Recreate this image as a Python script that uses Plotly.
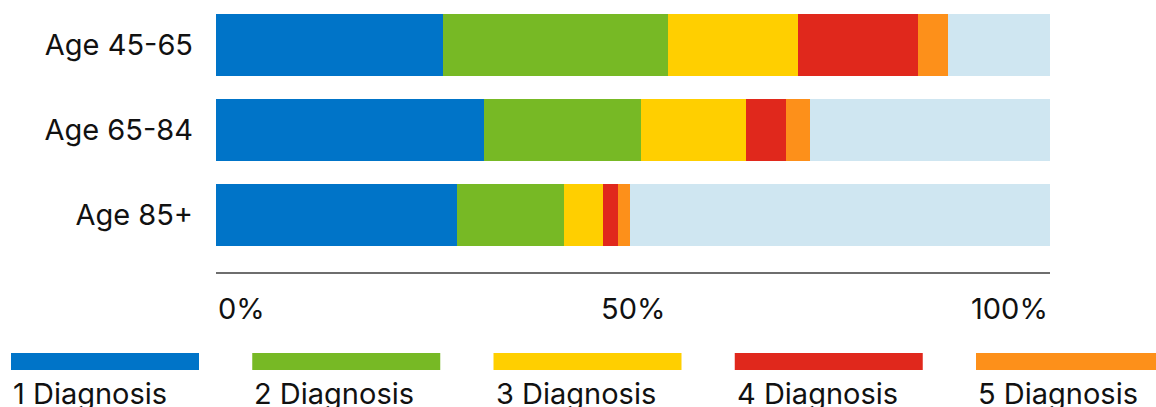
import plotly.graph_objects as go

categories = ["Age 45-65", "Age 65-84", "Age 85+"]
series_names = ["1 Diagnosis", "2 Diagnosis", "3 Diagnosis", "4 Diagnosis", "5 Diagnosis"]
diag1 = [27.2, 32.1, 28.9]
diag2 = [27.0, 18.8, 12.8]
diag3 = [15.6, 12.6, 4.7]
diag4 = [14.4, 4.9, 1.8]
diag5 = [3.6, 2.8, 1.4]
remainder = [12.2, 28.8, 50.4]
x_tick_vals = [0, 50, 100]
x_tick_text = ["0%", "50%", "100%"]

colors = ["#0074c8", "#77b925", "#ffcf00", "#e0281c", "#fd901a"]
rest_color = "#cfe6f1"
FONT = "Inter"
FS = 29
TXT = "#111111"

W, H = 1156, 407
ML, MR, MT, MB = 216, 106, 2, 135
PW = W - ML - MR
PH = H - MT - MB


def px_x(px):
    return (px - ML) / PW


def px_y(py):
    return (H - MB - py) / PH


fig = go.Figure()
for name, vals, col in zip(series_names, [diag1, diag2, diag3, diag4, diag5], colors):
    fig.add_trace(go.Bar(y=categories, x=vals, name=name, orientation="h",
                         marker=dict(color=col, line=dict(width=0)), showlegend=False))
fig.add_trace(go.Bar(y=categories, x=remainder, name="Other", orientation="h",
                     marker=dict(color=rest_color, line=dict(width=0)), showlegend=False))

# x tick labels (left / centre / right aligned)
anchors = ["left", "center", "right"]
for v, t, a in zip(x_tick_vals, x_tick_text, anchors):
    fig.add_annotation(x=v, xref="x", y=px_y(308), yref="paper", text=t, showarrow=False,
                       xanchor=a, yanchor="middle", font=dict(family=FONT, size=FS, color=TXT))

# custom legend: thick bar above label
for i, (name, col) in enumerate(zip(series_names, colors)):
    x0 = 11 + 241.25 * i
    fig.add_shape(type="rect", xref="paper", yref="paper",
                  x0=px_x(x0), x1=px_x(x0 + 188), y0=px_y(370), y1=px_y(353),
                  fillcolor=col, line=dict(width=0), layer="above")
    fig.add_annotation(x=px_x(x0), xref="paper", y=px_y(393), yref="paper", text=name,
                       showarrow=False, xanchor="left", yanchor="middle",
                       font=dict(family=FONT, size=FS, color=TXT))

fig.update_layout(
    width=W, height=H,
    margin=dict(l=ML, r=MR, t=MT, b=MB, pad=0),
    barmode="stack", bargap=0.27,
    plot_bgcolor="white", paper_bgcolor="white",
    font=dict(family=FONT, size=FS, color=TXT),
    xaxis=dict(range=[0, 100], showgrid=False, zeroline=False, showticklabels=False,
               showline=True, linecolor="#6e6e6e", linewidth=2, ticks="", fixedrange=True),
    yaxis=dict(range=[2.671, -0.506], showgrid=False, zeroline=False, ticks="",
               ticklabelstandoff=22, tickfont=dict(family=FONT, size=FS, color=TXT),
               fixedrange=True),
)

fig.write_html("out.html", config={"displayModeBar": False},
               post_script="document.body.style.margin='0';document.body.style.overflow='hidden';")
